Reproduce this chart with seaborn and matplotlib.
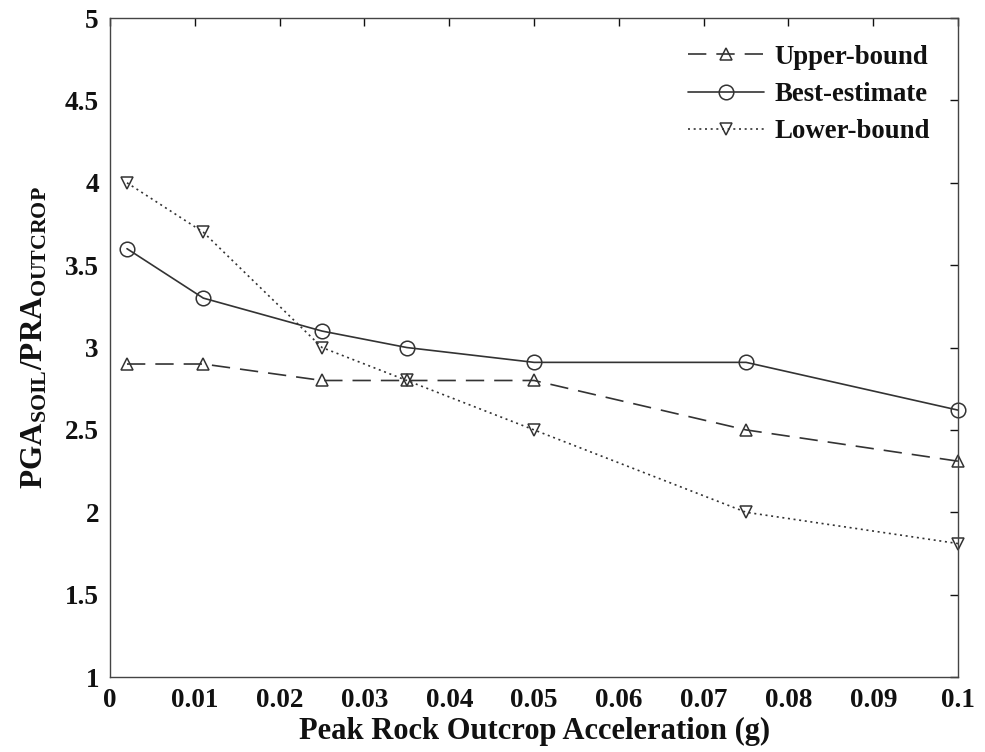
import matplotlib
matplotlib.use("Agg")
import matplotlib.pyplot as plt
import seaborn as sns
import pandas as pd
from matplotlib.ticker import FuncFormatter, MultipleLocator

# Data
pra = [0.002, 0.011, 0.025, 0.035, 0.05, 0.075, 0.1]
upper = [2.9, 2.9, 2.8, 2.8, 2.8, 2.5, 2.31]
best = [3.6, 3.3, 3.1, 3.0, 2.91, 2.91, 2.62]
lower = [4.0, 3.7, 3.0, 2.8, 2.5, 2.0, 1.81]
series_names = ["Upper-bound", "Best-estimate", "Lower-bound"]

df = pd.DataFrame({
    "x": pra * 3,
    "y": upper + best + lower,
    "series": sum([[n] * len(pra) for n in series_names], []),
})

sns.set_theme(style="white")
plt.rcParams["font.family"] = ["Liberation Serif", "DejaVu Serif"]
plt.rcParams["font.weight"] = "bold"
plt.rcParams["mathtext.fontset"] = "custom"
plt.rcParams["mathtext.rm"] = "Liberation Serif:bold"
plt.rcParams["mathtext.bf"] = "Liberation Serif:bold"
plt.rcParams["mathtext.it"] = "Liberation Serif:bold"

fig = plt.figure(figsize=(9.85, 7.52), dpi=100)
ax = fig.add_axes([0.1117, 0.0997, 0.861, 0.8763])

styles = {
    "Upper-bound": dict(linestyle=(0, (11, 6)), marker="^", ms=9),
    "Best-estimate": dict(linestyle="-", marker="o", ms=10.5),
    "Lower-bound": dict(linestyle=(0, (1.2, 2.2)), marker="v", ms=9),
}
col = "#333333"
for name in series_names:
    sub = df[df["series"] == name]
    st = styles[name]
    sns.lineplot(data=sub, x="x", y="y", ax=ax, color=col, linewidth=1.2,
                 linestyle=st["linestyle"], marker=st["marker"], markersize=st["ms"],
                 markerfacecolor="none", markeredgecolor=col, markeredgewidth=1.1,
                 label=name, sort=False, clip_on=False)

ax.set_xlim(0, 0.1)
ax.set_ylim(1, 5)
ax.xaxis.set_major_locator(MultipleLocator(0.01))
ax.yaxis.set_major_locator(MultipleLocator(0.5))
ax.xaxis.set_major_formatter(FuncFormatter(lambda v, p: ("%g" % round(v, 3))))
ax.yaxis.set_major_formatter(FuncFormatter(lambda v, p: ("%g" % round(v, 2))))
ax.tick_params(direction="in", length=6, width=1, top=True, right=True,
               labelsize=19.5, colors="#111111", pad=8)
for lbl in ax.get_xticklabels() + ax.get_yticklabels():
    lbl.set_fontweight("bold")
for s in ax.spines.values():
    s.set_color("#444444")
    s.set_linewidth(1.0)

ax.set_xlabel("Peak Rock Outcrop Acceleration (g)", fontsize=22, fontweight="bold",
              color="#111111", labelpad=3)
ax.set_ylabel(r"$\mathbf{PGA_{SOIL}/PRA_{OUTCROP}}$", fontsize=22.5, color="#111111",
              labelpad=4)
ax.yaxis.set_label_coords(-0.071, 0.515)

leg = ax.legend(loc="upper right", frameon=False, fontsize=19.3, handlelength=2.8,
                borderaxespad=0.6, labelspacing=0.45, handletextpad=0.4,
                bbox_to_anchor=(0.998, 1.0))
for t in leg.get_texts():
    t.set_fontweight("bold")
    t.set_color("#111111")

fig.savefig("out.png", dpi=100, facecolor="white")
